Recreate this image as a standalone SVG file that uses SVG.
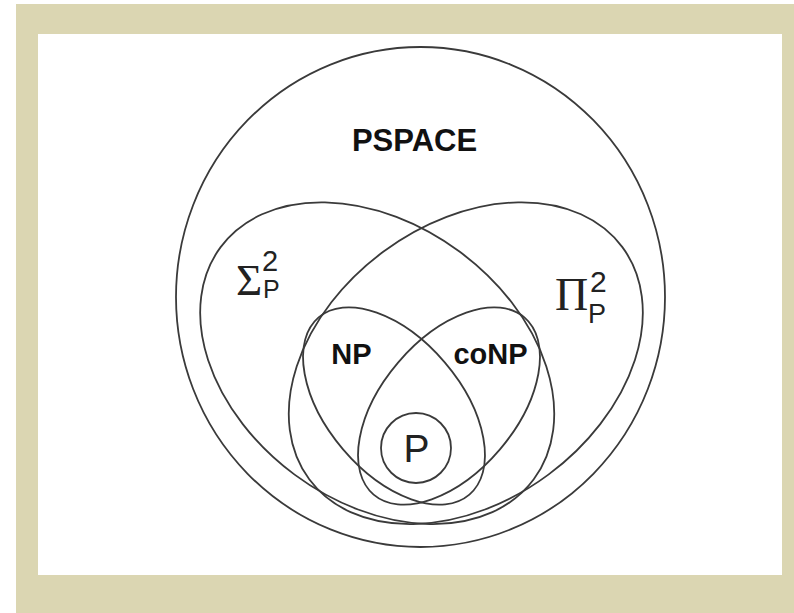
<svg xmlns="http://www.w3.org/2000/svg" width="794" height="613" viewBox="0 0 794 613">
<style>
.set{fill:none;stroke:#3a3a3a;stroke-width:1.8}
.lb{font-family:"Liberation Sans",Arial,sans-serif;font-weight:bold;fill:#111;text-anchor:middle}
.sn{font-family:"Liberation Sans",Arial,sans-serif;fill:#222}
.sf{font-family:"Liberation Serif","Times New Roman",serif;fill:#222}
</style>
<rect x="0" y="0" width="794" height="613" fill="#ffffff"/>
<rect x="16" y="4" width="778" height="609" fill="#dbd6b2"/>
<rect x="38" y="34" width="744" height="541" fill="#ffffff"/>
<g id="pspace">
<ellipse class="set" cx="420.5" cy="297" rx="244.5" ry="250"/>
<text class="lb" x="414.5" y="151" font-size="31">PSPACE</text>
</g>
<g id="sigma2">
<ellipse class="set" cx="377.2" cy="363.2" rx="194.9" ry="138.7" transform="rotate(36.55 377.2 363.2)"/>
<text class="sf" x="236" y="295" font-size="45">Σ</text>
<text class="sn" x="262" y="271" font-size="29">2</text>
<text class="sn" x="263" y="298" font-size="25">P</text>
</g>
<g id="pi2">
<ellipse class="set" cx="465.8" cy="363.2" rx="194.9" ry="138.7" transform="rotate(-36.55 465.8 363.2)"/>
<text class="sf" x="555" y="310" font-size="46">Π</text>
<text class="sn" x="590" y="292" font-size="30">2</text>
<text class="sn" x="588" y="323" font-size="27">P</text>
</g>
<g id="np">
<ellipse class="set" cx="394" cy="406" rx="116.3" ry="66.9" transform="rotate(49.6 394 406)"/>
<text class="lb" x="351.5" y="364" font-size="29">NP</text>
</g>
<g id="conp">
<ellipse class="set" cx="449" cy="406" rx="116.3" ry="66.9" transform="rotate(-49.6 449 406)"/>
<text class="lb" x="490.5" y="364" font-size="29">coNP</text>
</g>
<g id="p">
<circle class="set" cx="416" cy="448" r="35"/>
<text class="sn" x="416.5" y="462" font-size="39" text-anchor="middle">P</text>
</g>
</svg>
